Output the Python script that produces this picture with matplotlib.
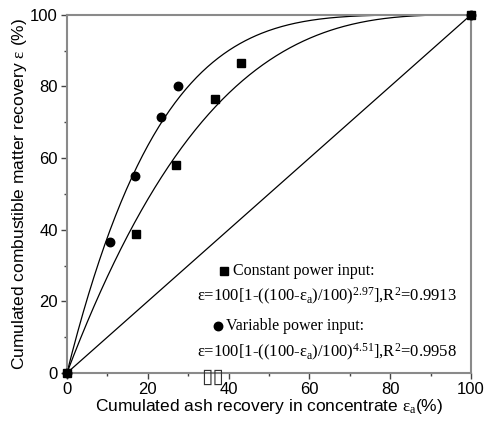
import numpy as np
import matplotlib
matplotlib.use('Agg')
import matplotlib.pyplot as plt
from matplotlib.ticker import MultipleLocator

plt.rcParams['font.family'] = ['Liberation Sans', 'DejaVu Sans']
plt.rcParams['mathtext.fontset'] = 'custom'
plt.rcParams['mathtext.rm'] = 'Liberation Serif'
plt.rcParams['mathtext.it'] = 'Liberation Serif'
plt.rcParams['mathtext.bf'] = 'Liberation Serif:bold'

# measured points (ash recovery, combustible recovery)
const_x = [0, 17.2, 26.9, 36.7, 43.1, 100]
const_y = [0, 38.8, 58.2, 76.6, 86.6, 100]
var_x = [0, 10.6, 16.8, 23.4, 27.5, 100]
var_y = [0, 36.5, 55.1, 71.4, 80.0, 100]

# fitted exponents from the chart text
n_const = 2.97
n_var = 4.51
r2_const = 0.9913
r2_var = 0.9958

diag = [0, 100]

fig = plt.figure(figsize=(4.85, 4.26), dpi=100)
ax = fig.add_axes([0.138, 0.1244, 0.833, 0.8408])

ea = np.linspace(0, 100, 300)
ax.plot(ea, 100 * (1 - ((100 - ea) / 100) ** n_const), color='black', lw=0.9)
ax.plot(ea, 100 * (1 - ((100 - ea) / 100) ** n_var), color='black', lw=0.9)
ax.plot(diag, diag, color='black', lw=0.9)

ax.plot(const_x, const_y, 's', color='black', ms=5.6, clip_on=False, zorder=5)
ax.plot(var_x, var_y, 'o', color='black', ms=6.1, clip_on=False, zorder=5)

ax.set_xlim(0, 100)
ax.set_ylim(0, 100)
ax.xaxis.set_major_locator(MultipleLocator(20))
ax.xaxis.set_minor_locator(MultipleLocator(10))
ax.yaxis.set_major_locator(MultipleLocator(20))
ax.yaxis.set_minor_locator(MultipleLocator(10))
ax.tick_params(which='major', length=4.5, width=1.0, color='#444444', labelsize=12, pad=2)
ax.tick_params(which='minor', length=2.5, width=1.0, color='#444444')
for s in ax.spines.values():
    s.set_color('#8a8a8a')
    s.set_linewidth(1.5)

ax.set_xlabel(r'Cumulated ash recovery in concentrate $\varepsilon_{a}$(%)', fontsize=12.5, labelpad=0)
ax.set_ylabel(r'Cumulated combustible matter recovery $\varepsilon$ (%)', fontsize=12.5, labelpad=1)

# legend block
tf = dict(transform=ax.transAxes, family='Liberation Serif', va='center')
ax.plot([0.39], [0.286], 's', color='black', ms=5.6, transform=ax.transAxes)
ax.text(0.411, 0.286, 'Constant power input:', fontsize=11.5, **tf)
ax.text(0.322, 0.213,
        r'$\varepsilon$=100[1-((100-$\varepsilon_{a}$)/100)$^{%.2f}$],R$^{2}$=%.4f' % (n_const, r2_const),
        fontsize=12, **tf)
ax.plot([0.373], [0.131], 'o', color='black', ms=6.1, transform=ax.transAxes)
ax.text(0.393, 0.131, 'Variable power input:', fontsize=11.5, **tf)
ax.text(0.322, 0.058,
        r'$\varepsilon$=100[1-((100-$\varepsilon_{a}$)/100)$^{%.2f}$],R$^{2}$=%.4f' % (n_var, r2_var),
        fontsize=12, **tf)

ax.text(0.360, -0.010, '\u25af\u25af', transform=ax.transAxes, ha='center', va='center',
        family='DejaVu Sans', fontsize=15, color='#333333', clip_on=False)

fig.savefig('out.png', dpi=100)
